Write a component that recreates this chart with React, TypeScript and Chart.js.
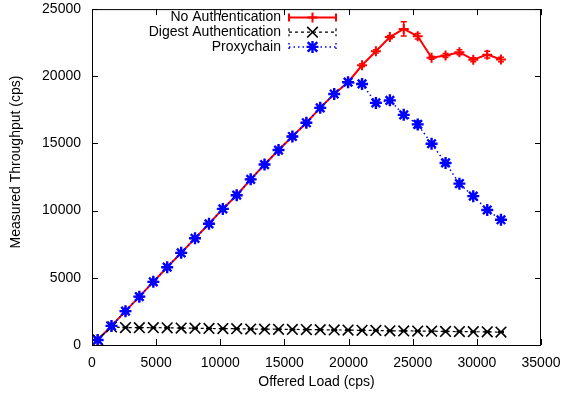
import React, { useEffect, useRef } from "react";
import { Chart, registerables } from "chart.js";
Chart.register(...registerables);

// ---- data ----
const offeredLoad = [440, 1520, 2610, 3690, 4780, 5860, 6950, 8030, 9120, 10200, 11280, 12370, 13450, 14540, 15620, 16710, 17790, 18880, 19960, 21050, 22130, 23220, 24300, 25390, 26470, 27560, 28640, 29720, 30810, 31880];
const noAuth = [370, 1420, 2520, 3600, 4700, 5790, 6860, 7940, 9020, 10130, 11150, 12330, 13430, 14510, 15520, 16540, 17650, 18680, 19560, 20820, 21860, 22920, 23520, 22980, 21380, 21550, 21790, 21230, 21610, 21250];
const noAuthErr = [60, 60, 60, 60, 60, 60, 60, 60, 60, 60, 60, 60, 60, 60, 80, 80, 80, 80, 80, 120, 120, 120, 530, 200, 120, 150, 180, 150, 250, 170];
const digestAuth = [400, 1340, 1300, 1290, 1290, 1280, 1260, 1250, 1230, 1220, 1210, 1190, 1180, 1170, 1160, 1150, 1140, 1120, 1110, 1090, 1080, 1060, 1050, 1040, 1030, 1010, 1000, 990, 980, 960];
const digestErr = [20, 20, 20, 20, 20, 20, 20, 20, 20, 20, 20, 20, 20, 20, 20, 20, 20, 20, 20, 20, 20, 20, 20, 20, 20, 20, 20, 20, 20, 20];
const proxychain = [370, 1420, 2520, 3600, 4700, 5790, 6860, 7940, 9020, 10130, 11150, 12330, 13430, 14510, 15520, 16540, 17650, 18680, 19560, 19430, 18020, 18210, 17130, 16420, 14980, 13550, 12010, 11080, 10050, 9320];
const proxychainErr = [60, 60, 60, 60, 60, 60, 60, 60, 60, 60, 60, 60, 60, 60, 80, 80, 80, 80, 80, 100, 100, 100, 100, 250, 120, 120, 220, 120, 100, 100];
const seriesNames = ["No Authentication", "Digest Authentication", "Proxychain"];
const xTicks = [0, 5000, 10000, 15000, 20000, 25000, 30000, 35000];
const yTicks = [0, 5000, 10000, 15000, 20000, 25000];
const xTitle = "Offered Load (cps)";
const yTitle = "Measured Throughput (cps)";

const FONT = '"Liberation Sans", Arial, Helvetica, sans-serif';

function drawMarker(ctx: CanvasRenderingContext2D, style: string, x: number, y: number, r: number) {
  ctx.beginPath();
  if (style === "cross" || style === "star") {
    ctx.moveTo(x - r, y); ctx.lineTo(x + r, y);
    ctx.moveTo(x, y - r); ctx.lineTo(x, y + r);
  }
  if (style === "crossRot" || style === "star") {
    const d = style === "star" ? r * 0.8 : r * 0.707;
    ctx.moveTo(x - d, y - d); ctx.lineTo(x + d, y + d);
    ctx.moveTo(x - d, y + d); ctx.lineTo(x + d, y - d);
  }
  ctx.stroke();
}

const gnuplotPlugin = {
  id: "gnuplot",
  beforeDatasetsDraw(chart: any) {
    const ctx = chart.ctx as CanvasRenderingContext2D;
    const xs = chart.scales.x, ys = chart.scales.y;
    chart.data.datasets.forEach((ds: any) => {
      if (!ds.errors) return;
      ctx.save();
      ctx.strokeStyle = ds.borderColor;
      ctx.lineWidth = 1.5;
      ctx.setLineDash([]);
      ds.data.forEach((p: any, i: number) => {
        const e = ds.errors[i];
        if (!e) return;
        const px = xs.getPixelForValue(p.x);
        const y1 = ys.getPixelForValue(p.y - e);
        const y2 = ys.getPixelForValue(p.y + e);
        ctx.beginPath();
        ctx.moveTo(px, y1); ctx.lineTo(px, y2);
        ctx.moveTo(px - 3, y1); ctx.lineTo(px + 3, y1);
        ctx.moveTo(px - 3, y2); ctx.lineTo(px + 3, y2);
        ctx.stroke();
      });
      ctx.restore();
    });
  },
  afterDraw(chart: any) {
    const ctx = chart.ctx as CanvasRenderingContext2D;
    const { left, right, top, bottom } = chart.chartArea;
    const xs = chart.scales.x, ys = chart.scales.y;
    ctx.save();
    ctx.strokeStyle = "#000";
    ctx.lineWidth = 1;
    ctx.setLineDash([]);
    ctx.strokeRect(left + 0.5, top + 0.5, right - left - 1, bottom - top);
    const tl = 6;
    ctx.beginPath();
    xTicks.forEach((v) => {
      const px = Math.round(xs.getPixelForValue(v)) + 0.5;
      ctx.moveTo(px, bottom); ctx.lineTo(px, bottom - tl);
      ctx.moveTo(px, top); ctx.lineTo(px, top + tl);
    });
    yTicks.forEach((v) => {
      const py = Math.round(ys.getPixelForValue(v)) + 0.5;
      ctx.moveTo(left, py); ctx.lineTo(left + tl, py);
      ctx.moveTo(right, py); ctx.lineTo(right - tl, py);
    });
    ctx.stroke();

    // axis titles
    ctx.fillStyle = "#000";
    ctx.font = `14px ${FONT}`;
    ctx.textAlign = "center";
    ctx.textBaseline = "middle";
    ctx.fillText(xTitle, (left + right) / 2, 382);
    ctx.save();
    ctx.translate(16, 162);
    ctx.rotate(-Math.PI / 2);
    ctx.fillText(yTitle, 0, 0);
    ctx.restore();

    // legend
    const x0 = 289, x1 = 336, xm = 312.5;
    chart.data.datasets.forEach((ds: any, i: number) => {
      const y = 17.5 + 14.7 * i;
      ctx.fillStyle = "#000";
      ctx.textAlign = "right";
      ctx.textBaseline = "middle";
      ctx.fillText(ds.label, 281, y);
      ctx.strokeStyle = ds.borderColor;
      ctx.lineWidth = ds.borderWidth;
      ctx.setLineDash(ds.borderDash || []);
      ctx.beginPath();
      ctx.moveTo(x0, y); ctx.lineTo(x1, y);
      ctx.moveTo(x0, y - 4); ctx.lineTo(x0, y + 4);
      ctx.moveTo(x1, y - 4); ctx.lineTo(x1, y + 4);
      ctx.stroke();
      ctx.setLineDash([]);
      ctx.lineWidth = ds.pointBorderWidth;
      drawMarker(ctx, ds.pointStyle, xm, y, ds.legendR);
    });
    ctx.restore();
  },
};

export default function App() {
  const ref = useRef<HTMLCanvasElement | null>(null);
  useEffect(() => {
    if (!ref.current) return;
    const mk = (ys: number[]) => offeredLoad.map((x, i) => ({ x, y: ys[i] }));
    const chart = new Chart(ref.current, {
      type: "scatter",
      data: {
        datasets: [
          {
            label: seriesNames[0],
            data: mk(noAuth),
            errors: noAuthErr,
            showLine: true,
            borderColor: "#ff0000",
            backgroundColor: "#ff0000",
            borderWidth: 2,
            pointStyle: "cross",
            pointRadius: 5,
            pointBorderWidth: 2,
            pointBorderColor: "#ff0000",
            legendR: 5,
            order: 2,
          } as any,
          {
            label: seriesNames[1],
            data: mk(digestAuth),
            errors: digestErr,
            showLine: true,
            borderColor: "#000000",
            backgroundColor: "#000000",
            borderWidth: 1.2,
            borderDash: [3, 3],
            pointStyle: "crossRot",
            pointRadius: 7.5,
            pointBorderWidth: 1.6,
            pointBorderColor: "#000000",
            legendR: 7.5,
            order: 1,
          } as any,
          {
            label: seriesNames[2],
            data: mk(proxychain),
            errors: proxychainErr,
            showLine: true,
            borderColor: "#0000ff",
            backgroundColor: "#0000ff",
            borderWidth: 1.5,
            borderDash: [1.5, 3],
            pointStyle: "star",
            pointRadius: 6,
            pointBorderWidth: 2.4,
            pointBorderColor: "#0000ff",
            legendR: 6,
            order: 0,
          } as any,
        ],
      },
      options: {
        animation: false,
        responsive: true,
        maintainAspectRatio: false,
        layout: { padding: { top: 5, right: 21, left: 0, bottom: 0 } },
        plugins: { legend: { display: false }, tooltip: { enabled: false } },
        scales: {
          x: {
            type: "linear",
            min: 0,
            max: 35000,
            grid: { display: false, drawTicks: false },
            border: { display: false },
            afterBuildTicks: (s: any) => { s.ticks = xTicks.map((v) => ({ value: v })); },
            afterFit: (s: any) => { s.height = 48; s.paddingLeft = 0; s.paddingRight = 0; },
            ticks: {
              color: "#000",
              font: { family: FONT, size: 14 },
              padding: 10,
              maxRotation: 0,
              autoSkip: false,
              callback: (v: any) => String(v),
            },
          },
          y: {
            type: "linear",
            min: 0,
            max: 25000,
            grid: { display: false, drawTicks: false },
            border: { display: false },
            afterBuildTicks: (s: any) => { s.ticks = yTicks.map((v) => ({ value: v })); },
            afterFit: (s: any) => { s.width = 92; s.paddingTop = 0; s.paddingBottom = 0; },
            ticks: {
              color: "#000",
              font: { family: FONT, size: 14 },
              padding: 11,
              autoSkip: false,
              callback: (v: any) => String(v),
            },
          },
        },
      } as any,
      plugins: [gnuplotPlugin as any],
    });
    return () => chart.destroy();
  }, []);
  return (
    <div style={{ position: "fixed", left: 0, top: 0, width: 562, height: 393, background: "#fff" }}>
      <canvas ref={ref} />
    </div>
  );
}
